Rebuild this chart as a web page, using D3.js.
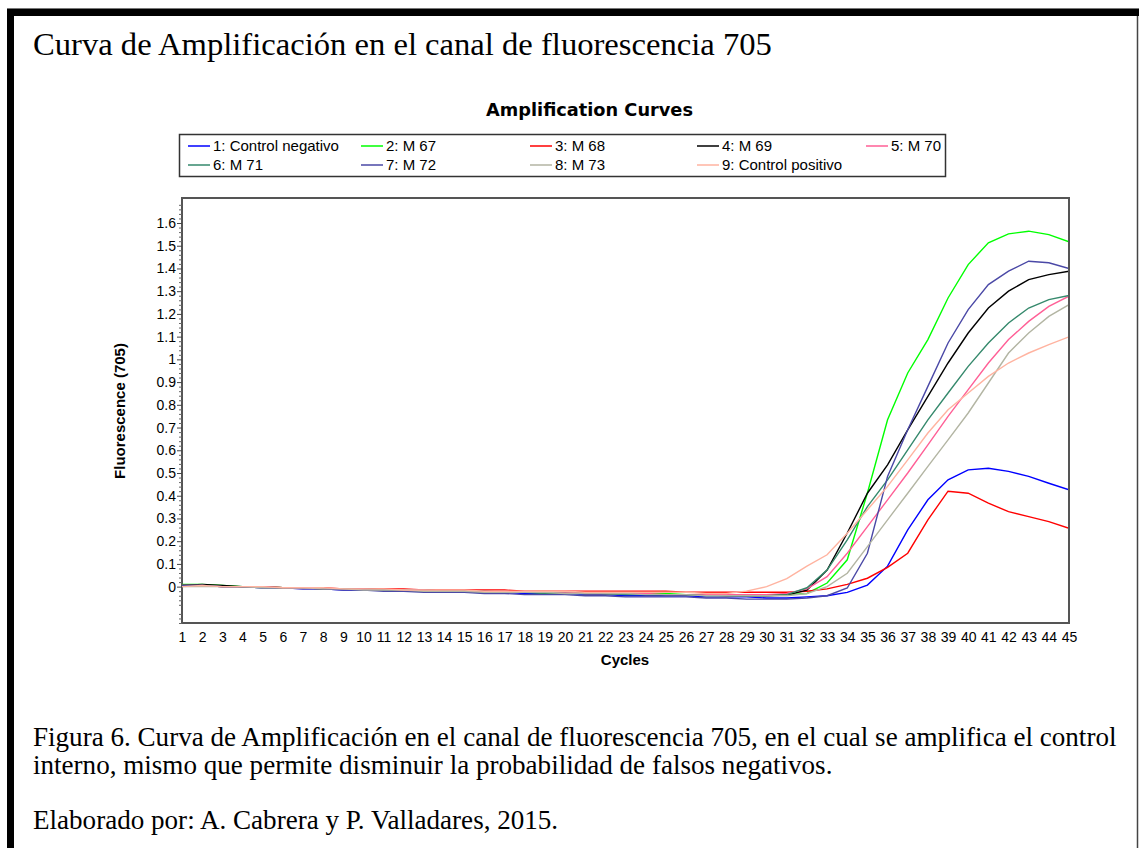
<!DOCTYPE html>
<html><head><meta charset="utf-8">
<script src="https://cdn.jsdelivr.net/npm/d3@7"></script>
<style>body{margin:0;background:#fff}svg{display:block}</style>
</head><body><svg id="c" width="1139" height="848"></svg>
<script>
const cycles = d3.range(1, 46);
const seriesNames = ["1: Control negativo","2: M 67","3: M 68","4: M 69","5: M 70","6: M 71","7: M 72","8: M 73","9: Control positivo"];
const seriesColors = ["#0000ff","#00ff00","#ff0000","#000000","#ff5f96","#35896c","#4a48a6","#b3b5a3","#ffb3a0"];
const s1 = [0.005,0.005,0.0,0.0,-0.005,-0.005,-0.01,-0.01,-0.015,-0.015,-0.015,-0.02,-0.02,-0.02,-0.025,-0.025,-0.025,-0.03,-0.03,-0.03,-0.035,-0.035,-0.04,-0.04,-0.04,-0.04,-0.045,-0.045,-0.045,-0.05,-0.05,
  -0.045,-0.04,-0.025,0.007,0.09,0.25,0.382,0.47,0.514,0.521,0.507,0.485,0.455,0.426];
const s2 = [0.01,0.01,0.005,0.0,0.0,-0.005,-0.005,-0.01,-0.01,-0.01,-0.015,-0.015,-0.015,-0.02,-0.02,-0.02,-0.02,-0.025,-0.025,-0.025,-0.025,-0.03,-0.03,-0.03,-0.03,-0.035,-0.035,-0.035,-0.035,-0.035,-0.035,
  -0.03,0.016,0.118,0.412,0.734,0.94,1.087,1.27,1.417,1.513,1.552,1.564,1.549,1.517];
const s3 = [0.005,0.005,0.0,0.0,0.0,-0.005,-0.005,-0.005,-0.01,-0.01,-0.01,-0.01,-0.015,-0.015,-0.015,-0.015,-0.015,-0.02,-0.02,-0.02,-0.02,-0.02,-0.02,-0.02,-0.02,-0.025,-0.025,-0.025,-0.025,-0.025,-0.025,
  -0.02,-0.01,0.01,0.037,0.085,0.147,0.294,0.42,0.411,0.367,0.33,0.308,0.286,0.257];
const s4 = [0.005,0.01,0.005,0.0,0.0,-0.005,-0.005,-0.01,-0.01,-0.01,-0.015,-0.015,-0.015,-0.02,-0.02,-0.02,-0.025,-0.025,-0.025,-0.025,-0.03,-0.03,-0.03,-0.035,-0.035,-0.035,-0.035,-0.04,-0.04,-0.04,-0.037,
  -0.015,0.073,0.236,0.411,0.536,0.69,0.837,0.984,1.116,1.226,1.3,1.351,1.373,1.388];
const s5 = [0.005,0.005,0.0,0.0,0.0,-0.005,-0.005,-0.01,-0.01,-0.01,-0.015,-0.015,-0.015,-0.02,-0.02,-0.02,-0.02,-0.025,-0.025,-0.025,-0.03,-0.03,-0.03,-0.03,-0.035,-0.035,-0.035,-0.035,-0.035,-0.035,-0.03,
  -0.01,0.044,0.147,0.264,0.382,0.5,0.624,0.749,0.867,0.984,1.087,1.167,1.233,1.278];
const s6 = [0.005,0.005,0.0,0.0,-0.005,-0.005,-0.005,-0.01,-0.01,-0.015,-0.015,-0.015,-0.02,-0.02,-0.02,-0.025,-0.025,-0.025,-0.03,-0.03,-0.03,-0.03,-0.035,-0.035,-0.035,-0.035,-0.04,-0.04,-0.04,-0.04,-0.035,
  -0.005,0.073,0.206,0.352,0.47,0.602,0.734,0.852,0.969,1.072,1.16,1.226,1.263,1.281];
const s7 = [0.005,0.005,0.0,0.0,-0.005,-0.005,-0.01,-0.01,-0.015,-0.015,-0.02,-0.02,-0.025,-0.025,-0.025,-0.03,-0.03,-0.035,-0.035,-0.035,-0.04,-0.04,-0.045,-0.045,-0.045,-0.045,-0.05,-0.05,-0.055,-0.055,-0.055,
  -0.05,-0.04,-0.006,0.147,0.485,0.69,0.881,1.072,1.219,1.329,1.388,1.432,1.425,1.4];
const s8 = [0.0,0.0,0.0,0.0,-0.005,-0.005,-0.005,-0.01,-0.01,-0.015,-0.015,-0.015,-0.02,-0.02,-0.02,-0.025,-0.025,-0.025,-0.025,-0.03,-0.03,-0.03,-0.03,-0.035,-0.035,-0.035,-0.04,-0.04,-0.04,-0.04,-0.04,
  -0.03,0.0,0.059,0.176,0.294,0.411,0.529,0.646,0.764,0.896,1.028,1.116,1.189,1.241];
const s9 = [0.0,0.005,0.0,0.0,0.0,-0.005,-0.005,-0.005,-0.01,-0.01,-0.01,-0.015,-0.015,-0.015,-0.015,-0.02,-0.02,-0.02,-0.02,-0.02,-0.025,-0.025,-0.025,-0.025,-0.025,-0.025,-0.03,-0.03,-0.02,0.0,0.035,
  0.09,0.14,0.235,0.338,0.441,0.558,0.676,0.778,0.852,0.925,0.984,1.028,1.065,1.099];
const seriesValues = [s1,s2,s3,s4,s5,s6,s7,s8,s9];
const yTickValues = [0,0.1,0.2,0.3,0.4,0.5,0.6,0.7,0.8,0.9,1,1.1,1.2,1.3,1.4,1.5,1.6];
const yTickLabels = ["0","0.1","0.2","0.3","0.4","0.5","0.6","0.7","0.8","0.9","1","1.1","1.2","1.3","1.4","1.5","1.6"];
const titleText = "Curva de Amplificación en el canal de fluorescencia 705";
const chartTitle = "Amplification Curves";
const captionLines = ["Figura 6. Curva de Amplificación en el canal de fluorescencia 705, en el cual se amplifica el control",
  "interno, mismo que permite disminuir la probabilidad de falsos negativos."];
const creditText = "Elaborado por: A. Cabrera y P. Valladares, 2015.";

const svg = d3.select("#c");
const L = 182, R = 1069, T = 198, B = 623;
const x = d3.scaleLinear().domain([1,45]).range([L,R]);
const y = d3.scaleLinear().domain([-0.16,1.71]).range([B,T]);

// outer frame
svg.append("rect").attr("x",7).attr("y",9).attr("width",1132).attr("height",7).attr("fill","#000");
svg.append("rect").attr("x",7).attr("y",9).attr("width",7).attr("height",845).attr("fill","#000");
svg.append("line").attr("x1",7).attr("x2",1139).attr("y1",8.5).attr("y2",8.5).attr("stroke","#777").attr("stroke-width",1);
svg.append("line").attr("x1",1137.5).attr("x2",1137.5).attr("y1",16).attr("y2",848).attr("stroke","#444").attr("stroke-width",1.5);

const serif = "'Liberation Serif','Times New Roman',serif";
function fit(sel, target){ const w = sel.node().getComputedTextLength(); const fs = parseFloat(sel.attr("font-size")); sel.attr("font-size", fs*target/w); return fs*target/w; }
const t = svg.append("text").attr("x",33).attr("y",55).attr("font-family",serif).attr("font-size",28).attr("fill","#000").text(titleText);
fit(t, 739);
const c1 = svg.append("text").attr("x",33).attr("y",746).attr("font-family",serif).attr("font-size",22).attr("fill","#000").text(captionLines[0]);
const cfs = fit(c1, 1084);
svg.append("text").attr("x",33).attr("y",774).attr("font-family",serif).attr("font-size",cfs).attr("fill","#000").text(captionLines[1]);
svg.append("text").attr("x",33).attr("y",829).attr("font-family",serif).attr("font-size",cfs).attr("fill","#000").text(creditText);

// chart title
const ct = svg.append("text").attr("x",589.5).attr("y",116).attr("text-anchor","middle").attr("font-family","'DejaVu Sans',sans-serif").attr("font-weight","900").attr("font-size",15).text(chartTitle);
fit(ct, 207);

// legend
const sans = "'Liberation Sans',Arial,sans-serif";
svg.append("rect").attr("x",179.5).attr("y",134.5).attr("width",766).attr("height",42).attr("fill","#fff").attr("stroke","#333").attr("stroke-width",1.5);
const colX = [188,361,530,697,866];
seriesNames.forEach((n,i)=>{
  const row = i<5?0:1, col = i<5?i:i-5;
  const ly = row===0?146:165;
  svg.append("line").attr("x1",colX[col]).attr("x2",colX[col]+22).attr("y1",ly).attr("y2",ly).attr("stroke",seriesColors[i]).attr("stroke-width",1.5);
  svg.append("text").attr("x",colX[col]+25).attr("y",ly+5).attr("font-family",sans).attr("font-size",15).attr("fill","#000").text(n);
});

// plot area
svg.append("rect").attr("x",L).attr("y",T).attr("width",R-L).attr("height",B-T).attr("fill","#fff").attr("stroke","#555").attr("stroke-width",2);

// y axis ticks
const yAxis = d3.axisLeft(y).tickValues(yTickValues).tickSize(5).tickPadding(1).tickFormat((d,i)=>yTickLabels[i]);
const ga = svg.append("g").attr("transform",`translate(${L},0)`).call(yAxis);
ga.select(".domain").remove();
ga.selectAll("text").attr("font-family",sans).attr("font-size",14).attr("fill","#000");
ga.selectAll("line").attr("stroke","#444");
const minor = d3.range(-8,86).map(k=>k*0.02).filter(v=>Math.abs(Math.round(v*10)-v*10)>1e-6);
const yMinor = d3.axisLeft(y).tickValues(minor).tickSize(3).tickFormat("");
const gm = svg.append("g").attr("transform",`translate(${L},0)`).call(yMinor);
gm.select(".domain").remove();
gm.selectAll("line").attr("stroke","#666");

// x axis labels
const xAxis = d3.axisBottom(x).tickValues(cycles).tickSize(0).tickPadding(9).tickFormat(d3.format("d"));
const gx = svg.append("g").attr("transform",`translate(0,${B})`).call(xAxis);
gx.select(".domain").remove();
gx.selectAll("text").attr("font-family",sans).attr("font-size",14).attr("fill","#000");

svg.append("text").attr("x",625).attr("y",665).attr("text-anchor","middle").attr("font-family",sans).attr("font-weight","bold").attr("font-size",15).text("Cycles");
svg.append("text").attr("transform","translate(125,411) rotate(-90)").attr("text-anchor","middle").attr("font-family",sans).attr("font-weight","bold").attr("font-size",15).text("Fluorescence (705)");

// lines
const line = d3.line().x((d,i)=>x(cycles[i])).y(d=>y(d));
svg.append("clipPath").attr("id","pc").append("rect").attr("x",L).attr("y",T).attr("width",R-L).attr("height",B-T);
const gl = svg.append("g").attr("clip-path","url(#pc)");
seriesValues.forEach((vals,i)=>{
  gl.append("path").datum(vals).attr("d",line).attr("fill","none").attr("stroke",seriesColors[i]).attr("stroke-width",1.4);
});
svg.append("line").attr("x1",R).attr("x2",R).attr("y1",T).attr("y2",B).attr("stroke","#555").attr("stroke-width",2);
</script></body></html>
